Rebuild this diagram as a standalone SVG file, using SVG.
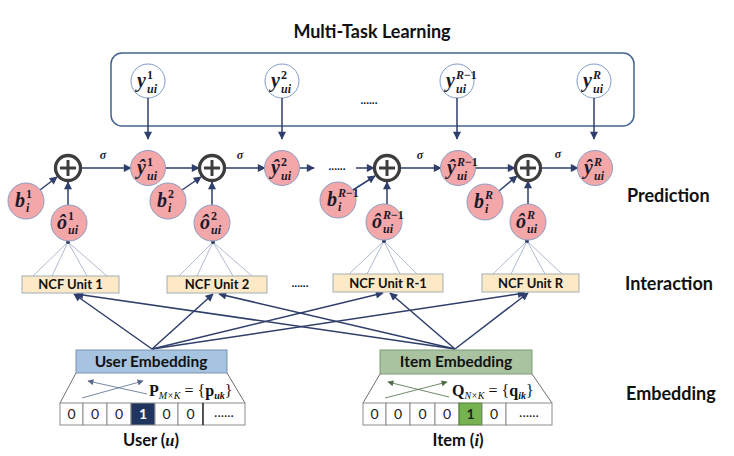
<svg xmlns="http://www.w3.org/2000/svg" width="734" height="456" viewBox="0 0 734 456">
<defs>
<marker id="ah" viewBox="0 0 10 10" refX="9" refY="5" markerWidth="9" markerHeight="8" markerUnits="userSpaceOnUse" orient="auto"><path d="M0,0 L10,5 L0,10 z" fill="#2f3e6a"/></marker>
<marker id="ahs" viewBox="0 0 10 10" refX="9" refY="5" markerWidth="7" markerHeight="6" markerUnits="userSpaceOnUse" orient="auto"><path d="M0,0 L10,5 L0,10 z" fill="#56688c"/></marker>
<marker id="ahg" viewBox="0 0 10 10" refX="9" refY="5" markerWidth="7" markerHeight="6" markerUnits="userSpaceOnUse" orient="auto"><path d="M0,0 L10,5 L0,10 z" fill="#4d6b45"/></marker>
<style>
.pk{fill:#f4a7a9;stroke:#8b9dc3;stroke-width:1}
.wt{fill:#fff;stroke:#7f9cc8;stroke-width:1}
.pc{fill:#fff;stroke:#3d3d3d;stroke-width:3.3}
.pl{stroke:#3d3d3d;stroke-width:3}
.m{font-family:"Liberation Serif","DejaVu Serif",serif;font-weight:bold;font-style:italic;fill:#1a1a2a}
.b{font-size:20px}
.s{font-size:12px}
.n{font-style:normal}
.lbl{font-family:Lato,"Liberation Sans",sans-serif;font-weight:bold;font-size:18px;fill:#111}
.ncf rect{fill:#fde9c6;stroke:#a3adb8;stroke-width:1}
.ncf text{font-family:Lato,"Liberation Sans",sans-serif;font-weight:bold;font-size:13px;fill:#111;text-anchor:middle}
.arr{stroke:#2f3e6a;stroke-width:1.5;fill:none;marker-end:url(#ah)}
.fan{stroke:#8e9cbb;stroke-width:0.7}
.dots{font-family:Lato,"Liberation Sans",sans-serif;font-weight:bold;font-size:12px;fill:#1a1a2a;text-anchor:middle}
.cell{fill:#fff;stroke:#8c8c8c;stroke-width:1}
.dg{font-family:Lato,"Liberation Sans",sans-serif;font-size:14px;fill:#222;text-anchor:middle}
.emb{font-family:Lato,"Liberation Sans",sans-serif;font-weight:bold;font-size:15.5px;fill:#111;text-anchor:middle}
.frm{font-family:"Liberation Serif",serif;font-size:16px;fill:#111}
.sig{font-family:"Liberation Serif",serif;font-weight:bold;font-style:italic;font-size:12px;fill:#1a1a2a;text-anchor:middle}
</style>
</defs>

<text class="lbl" x="372" y="38" text-anchor="middle">Multi-Task Learning</text>
<rect x="111" y="53" width="523" height="73" rx="11" fill="none" stroke="#44648e" stroke-width="1.5"/>
<text class="dots" x="369" y="104">......</text>

<g id="y1"><circle class="wt" cx="148" cy="81" r="17"/><text class="m b" x="137" y="87">y<tspan class="s n" x="147" y="79">1</tspan><tspan class="s" x="147" y="93">ui</tspan></text></g>
<g id="y2"><circle class="wt" cx="282" cy="81" r="17"/><text class="m b" x="271" y="87">y<tspan class="s n" x="281" y="79">2</tspan><tspan class="s" x="281" y="93">ui</tspan></text></g>
<g id="yR1"><circle class="wt" cx="457" cy="81" r="17"/><text class="m b" x="446" y="87">y<tspan class="s" x="456" y="79">R<tspan class="n">−1</tspan></tspan><tspan class="s" x="456" y="93">ui</tspan></text></g>
<g id="yR"><circle class="wt" cx="594" cy="81" r="17"/><text class="m b" x="583" y="87">y<tspan class="s" x="593" y="79">R</tspan><tspan class="s" x="593" y="93">ui</tspan></text></g>

<g id="connectors">
<line class="arr" x1="148" y1="98" x2="148" y2="139"/>
<line class="arr" x1="282" y1="98" x2="282" y2="139"/>
<line class="arr" x1="457" y1="98" x2="457" y2="139"/>
<line class="arr" x1="594" y1="98" x2="594" y2="139"/>
<line class="arr" x1="81" y1="168" x2="131" y2="168"/>
<line class="arr" x1="165" y1="168" x2="199" y2="168"/>
<line class="arr" x1="225" y1="168" x2="265" y2="168"/>
<line class="arr" x1="299" y1="168" x2="314" y2="168"/>
<line class="arr" x1="356" y1="168" x2="374" y2="168"/>
<line class="arr" x1="400" y1="168" x2="441" y2="168"/>
<line class="arr" x1="475" y1="168" x2="515" y2="168"/>
<line class="arr" x1="541" y1="168" x2="578" y2="168"/>
<line class="arr" x1="40" y1="190" x2="57" y2="177"/>
<line class="arr" x1="182" y1="190" x2="201" y2="177"/>
<line class="arr" x1="353" y1="190" x2="375" y2="176"/>
<line class="arr" x1="499" y1="191" x2="517" y2="176"/>
<line class="arr" x1="68" y1="205" x2="68" y2="182"/>
<line class="arr" x1="212" y1="205" x2="212" y2="182"/>
<line class="arr" x1="387" y1="204" x2="387" y2="182"/>
<line class="arr" x1="528" y1="204" x2="528" y2="181"/>
<line class="fan" x1="68" y1="242" x2="33" y2="276"/><line class="fan" x1="68" y1="242" x2="52" y2="276"/><line class="fan" x1="68" y1="242" x2="87" y2="276"/><line class="fan" x1="68" y1="242" x2="107" y2="276"/>
<line class="fan" x1="213" y1="242" x2="179" y2="276"/><line class="fan" x1="213" y1="242" x2="197" y2="276"/><line class="fan" x1="213" y1="242" x2="233" y2="276"/><line class="fan" x1="213" y1="242" x2="252" y2="276"/>
<line class="fan" x1="384" y1="241" x2="349" y2="274"/><line class="fan" x1="384" y1="241" x2="367" y2="274"/><line class="fan" x1="384" y1="241" x2="400" y2="274"/><line class="fan" x1="384" y1="241" x2="417" y2="274"/>
<line class="fan" x1="527" y1="241" x2="493" y2="274"/><line class="fan" x1="527" y1="241" x2="511" y2="274"/><line class="fan" x1="527" y1="241" x2="545" y2="274"/><line class="fan" x1="527" y1="241" x2="562" y2="274"/>
<circle cx="68" cy="242" r="2" fill="#2f3e6a"/><circle cx="213" cy="242" r="2" fill="#2f3e6a"/><circle cx="384" cy="241" r="2" fill="#2f3e6a"/><circle cx="527" cy="241" r="2" fill="#2f3e6a"/>
<line class="arr" x1="152" y1="349" x2="74" y2="294"/>
<line class="arr" x1="152" y1="349" x2="213" y2="294"/>
<line class="arr" x1="152" y1="349" x2="383" y2="293"/>
<line class="arr" x1="152" y1="349" x2="525" y2="293"/>
<line class="arr" x1="455" y1="349" x2="76" y2="294"/>
<line class="arr" x1="455" y1="349" x2="219" y2="294"/>
<line class="arr" x1="455" y1="349" x2="390" y2="293"/>
<line class="arr" x1="455" y1="349" x2="528" y2="293"/>
</g>

<text class="sig" x="103" y="159">σ</text>
<text class="sig" x="240" y="159">σ</text>
<text class="sig" x="420" y="159">σ</text>
<text class="sig" x="558" y="158">σ</text>
<text class="dots" x="337" y="170">......</text>

<g id="plus1"><circle class="pc" cx="68" cy="168" r="12.5"/><line class="pl" x1="60" y1="168" x2="76" y2="168"/><line class="pl" x1="68" y1="160" x2="68" y2="176"/></g>
<g id="plus2"><circle class="pc" cx="212" cy="168" r="12.5"/><line class="pl" x1="204" y1="168" x2="220" y2="168"/><line class="pl" x1="212" y1="160" x2="212" y2="176"/></g>
<g id="plus3"><circle class="pc" cx="387" cy="168" r="12.5"/><line class="pl" x1="379" y1="168" x2="395" y2="168"/><line class="pl" x1="387" y1="160" x2="387" y2="176"/></g>
<g id="plus4"><circle class="pc" cx="528" cy="168" r="12.5"/><line class="pl" x1="520" y1="168" x2="536" y2="168"/><line class="pl" x1="528" y1="160" x2="528" y2="176"/></g>

<g id="yh1"><circle class="pk" cx="148" cy="168" r="17.5"/><text class="m b" x="137" y="174">ŷ<tspan class="s n" x="147" y="166">1</tspan><tspan class="s" x="147" y="180">ui</tspan></text></g>
<g id="yh2"><circle class="pk" cx="282" cy="168" r="17.5"/><text class="m b" x="271" y="174">ŷ<tspan class="s n" x="281" y="166">2</tspan><tspan class="s" x="281" y="180">ui</tspan></text></g>
<g id="yhR1"><circle class="pk" cx="458" cy="168" r="17.5"/><text class="m b" x="447" y="174">ŷ<tspan class="s" x="457" y="166">R<tspan class="n">−1</tspan></tspan><tspan class="s" x="457" y="180">ui</tspan></text></g>
<g id="yhR"><circle class="pk" cx="595" cy="168" r="17.5"/><text class="m b" x="584" y="174">ŷ<tspan class="s" x="594" y="166">R</tspan><tspan class="s" x="594" y="180">ui</tspan></text></g>

<g id="b1"><circle class="pk" cx="26" cy="201" r="18"/><text class="m b" x="15" y="207">b<tspan class="s n" x="26" y="198">1</tspan><tspan class="s" x="26" y="212">i</tspan></text></g>
<g id="b2"><circle class="pk" cx="168" cy="201" r="18"/><text class="m b" x="157" y="207">b<tspan class="s n" x="168" y="198">2</tspan><tspan class="s" x="168" y="212">i</tspan></text></g>
<g id="bR1"><circle class="pk" cx="338" cy="200" r="18"/><text class="m b" x="327" y="206">b<tspan class="s" x="338" y="197">R<tspan class="n">−1</tspan></tspan><tspan class="s" x="338" y="211">i</tspan></text></g>
<g id="bR"><circle class="pk" cx="485" cy="202" r="18"/><text class="m b" x="474" y="208">b<tspan class="s" x="485" y="199">R</tspan><tspan class="s" x="485" y="213">i</tspan></text></g>

<g id="o1"><circle class="pk" cx="69" cy="223" r="18"/><text class="m b" x="57" y="229">ô<tspan class="s n" x="68" y="220">1</tspan><tspan class="s" x="68" y="234">ui</tspan></text></g>
<g id="o2"><circle class="pk" cx="212" cy="223" r="18"/><text class="m b" x="200" y="229">ô<tspan class="s n" x="211" y="220">2</tspan><tspan class="s" x="211" y="234">ui</tspan></text></g>
<g id="oR1"><circle class="pk" cx="384" cy="222" r="18"/><text class="m b" x="372" y="228">ô<tspan class="s" x="383" y="219">R<tspan class="n">−1</tspan></tspan><tspan class="s" x="383" y="233">ui</tspan></text></g>
<g id="oR"><circle class="pk" cx="528" cy="222" r="18"/><text class="m b" x="516" y="228">ô<tspan class="s" x="527" y="219">R</tspan><tspan class="s" x="527" y="233">ui</tspan></text></g>

<text class="lbl" x="627" y="202">Prediction</text>
<text class="lbl" x="625" y="290">Interaction</text>
<text class="lbl" x="626" y="400">Embedding</text>

<g id="ncf1" class="ncf"><rect x="22" y="276" width="97" height="17"/><text x="70.5" y="289">NCF Unit 1</text></g>
<g id="ncf2" class="ncf"><rect x="167" y="276" width="100" height="17"/><text x="217" y="289">NCF Unit 2</text></g>
<g id="ncfR1" class="ncf"><rect x="333" y="274" width="110" height="18"/><text x="388" y="288">NCF Unit R-1</text></g>
<g id="ncfR" class="ncf"><rect x="482" y="274" width="97" height="18"/><text x="530.5" y="288">NCF Unit R</text></g>
<text class="dots" x="300" y="287">......</text>

<g id="user">
<rect x="76" y="350" width="151" height="23" fill="#a6c3df" stroke="#7d93ad"/>
<text class="emb" x="151" y="367">User Embedding</text>
<line x1="76" y1="373" x2="60" y2="403" stroke="#707070" stroke-width="1"/>
<line x1="227" y1="373" x2="245" y2="403" stroke="#707070" stroke-width="1"/>
<line x1="82" y1="398" x2="143" y2="381" stroke="#56688c" stroke-width="0.8" marker-end="url(#ahs)"/>
<line x1="147" y1="394" x2="88" y2="381" stroke="#56688c" stroke-width="0.8" marker-end="url(#ahs)"/>
<text class="frm" x="149" y="396"><tspan font-weight="bold">P</tspan><tspan font-size="10" font-style="italic" dy="3">M×K</tspan><tspan dy="-3"> = {</tspan><tspan font-weight="bold">p</tspan><tspan font-size="10" font-style="italic" font-weight="bold" dy="3">uk</tspan><tspan dy="-3">}</tspan></text>
<rect class="cell" x="60" y="403" width="23" height="22"/><rect class="cell" x="83" y="403" width="24" height="22"/><rect class="cell" x="107" y="403" width="24" height="22"/>
<rect x="131" y="403" width="24" height="22" fill="#1f3560" stroke="#8c8c8c"/>
<rect class="cell" x="155" y="403" width="23" height="22"/><rect class="cell" x="178" y="403" width="25" height="22"/><rect class="cell" x="203" y="403" width="42" height="22"/>
<line x1="203" y1="403" x2="203" y2="425" stroke="#111" stroke-width="1.2"/>
<text class="dg" x="71.5" y="419">0</text><text class="dg" x="95" y="419">0</text><text class="dg" x="119" y="419">0</text><text class="dg" x="143" y="419" style="fill:#fff;font-weight:bold">1</text><text class="dg" x="166.5" y="419">0</text><text class="dg" x="190.5" y="419">0</text><text class="dg" x="224" y="417">......</text>
<text class="emb" x="151" y="446" style="font-size:16.5px">User (<tspan font-family="Liberation Serif,serif" font-style="italic">u</tspan>)</text>
</g>

<g id="item">
<rect x="380" y="350" width="152" height="24" fill="#a9c3a1" stroke="#7f9a77"/>
<text class="emb" x="456" y="367">Item Embedding</text>
<line x1="380" y1="374" x2="363" y2="403" stroke="#707070" stroke-width="1"/>
<line x1="532" y1="374" x2="552" y2="403" stroke="#707070" stroke-width="1"/>
<line x1="385" y1="398" x2="447" y2="382" stroke="#4d6b45" stroke-width="0.8" marker-end="url(#ahg)"/>
<line x1="449" y1="397" x2="388" y2="382" stroke="#4d6b45" stroke-width="0.8" marker-end="url(#ahg)"/>
<text class="frm" x="452" y="396"><tspan font-weight="bold">Q</tspan><tspan font-size="10" font-style="italic" dy="3">N×K</tspan><tspan dy="-3"> = {</tspan><tspan font-weight="bold">q</tspan><tspan font-size="10" font-style="italic" font-weight="bold" dy="3">ik</tspan><tspan dy="-3">}</tspan></text>
<rect class="cell" x="363" y="403" width="23" height="22"/><rect class="cell" x="386" y="403" width="24" height="22"/><rect class="cell" x="410" y="403" width="25" height="22"/><rect class="cell" x="435" y="403" width="24" height="22"/>
<rect x="459" y="403" width="23" height="22" fill="#76b24f" stroke="#4d7a33"/>
<rect class="cell" x="482" y="403" width="24" height="22"/><rect class="cell" x="506" y="403" width="46" height="22"/>
<text class="dg" x="374.5" y="419">0</text><text class="dg" x="398" y="419">0</text><text class="dg" x="422.5" y="419">0</text><text class="dg" x="447" y="419">0</text><text class="dg" x="470.5" y="419" style="font-weight:bold">1</text><text class="dg" x="494" y="419">0</text><text class="dg" x="529" y="417">......</text>
<text class="emb" x="458" y="446" style="font-size:16.5px">Item (<tspan font-family="Liberation Serif,serif" font-style="italic">i</tspan>)</text>
</g>
</svg>
